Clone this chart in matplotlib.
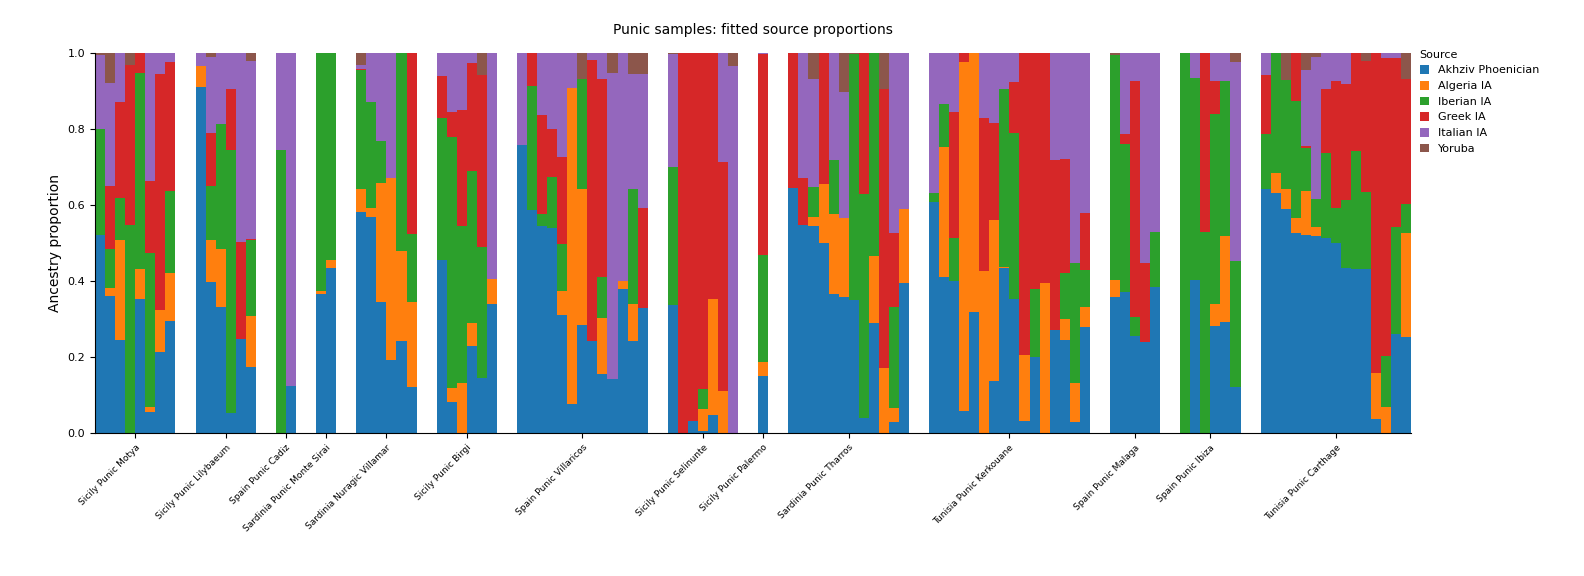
import numpy as np
import matplotlib
matplotlib.use("Agg")
import matplotlib.pyplot as plt

sources = ["Akhziv Phoenician", "Algeria IA", "Iberian IA", "Greek IA", "Italian IA", "Yoruba"]
colors = ["#1f77b4", "#ff7f0e", "#2ca02c", "#d62728", "#9467bd", "#8c564b"]

# cumulative tops per sample: (Akhziv, +Algeria, +Iberian, +Greek, +Italian); Yoruba fills to 1
motya = [(0.52,0.52,0.80,0.80,0.995),(0.36,0.383,0.484,0.65,0.92),(0.245,0.508,0.618,0.872,1.0),
         (0,0,0.547,0.969,0.969),(0.354,0.432,0.948,1.0,1.0),(0.055,0.07,0.474,0.664,1.0),
         (0.214,0.323,0.323,0.945,1.0),(0.294,0.422,0.638,0.977,1.0)]
lilybaeum = [(0.911,0.966,0.966,0.966,1.0),(0.398,0.508,0.651,0.789,0.99),(0.333,0.484,0.8125,0.8125,1.0),
             (0.052,0.052,0.745,0.906,1.0),(0.247,0.247,0.247,0.503,1.0),(0.174,0.307,0.508,0.51,0.979)]
cadiz = [(0,0,0.745,0.745,1.0),(0.125,0.125,0.125,0.125,1.0)]
monte_sirai = [(0.365,0.375,1.0,1.0,1.0),(0.435,0.456,1.0,1.0,1.0)]
villamar = [(0.581,0.643,0.956,0.958,0.969),(0.568,0.591,0.87,0.87,1.0),(0.346,0.659,0.768,0.768,1.0),
            (0.193,0.672,0.672,0.672,1.0),(0.242,0.479,1.0,1.0,1.0),(0.122,0.344,0.523,1.0,1.0)]
birgi = [(0.456,0.456,0.828,0.94,1.0),(0.081,0.12,0.779,0.844,1.0),(0,0.133,0.544,0.849,1.0),
         (0.229,0.289,0.69,0.974,1.0),(0.146,0.146,0.49,0.943,0.943),(0.339,0.406,0.406,0.406,1.0)]
villaricos = [(0.758,0.758,0.758,0.758,1.0),(0.586,0.586,0.914,1.0,1.0),(0.544,0.544,0.576,0.836,1.0),
              (0.539,0.539,0.674,0.8,1.0),(0.31,0.375,0.497,0.727,1.0),(0.076,0.909,0.909,0.909,1.0),
              (0.284,0.641,0.932,0.932,0.932),(0.242,0.242,0.242,0.982,1.0),(0.156,0.302,0.411,0.932,1.0),
              (0.143,0.143,0.143,0.143,0.948),(0.378,0.401,0.401,0.401,1.0),(0.242,0.339,0.643,0.643,0.945),
              (0.328,0.328,0.328,0.591,0.945)]
selinunte = [(0.336,0.336,0.70,0.70,0.997),(0,0,0,1.0,1.0),(0.031,0.031,0.031,1.0,1.0),
             (0.005,0.0625,0.117,1.0,1.0),(0.049,0.352,0.352,1.0,1.0),(0,0.112,0.112,0.714,1.0),
             (0,0,0,0,0.966)]
palermo = [(0.151,0.1875,0.469,0.997,1.0)]
tharros = [(0.646,0.646,0.646,1.0,1.0),(0.547,0.547,0.547,0.672,1.0),(0.544,0.568,0.648,0.648,0.932),
           (0.5,0.656,0.656,1.0,1.0),(0.367,0.576,0.719,0.719,1.0),(0.357,0.565,0.565,0.565,0.898),
           (0.349,0.349,0.997,0.997,0.997),(0.039,0.039,0.628,1.0,1.0),(0.289,0.466,1.0,1.0,1.0),
           (0,0.172,0.172,0.904,0.904),(0.029,0.065,0.333,0.526,1.0),(0.396,0.589,0.589,0.589,1.0)]
kerkouane = [(0.607,0.607,0.633,0.633,1.0),(0.411,0.753,0.867,0.867,1.0),(0.401,0.401,0.513,0.844,1.0),
             (0.057,0.977,0.977,1.0,1.0),(0.32,1.0,1.0,1.0,1.0),(0,0.427,0.427,0.828,1.0),
             (0.138,0.56,0.56,0.815,1.0),(0.435,0.4375,0.904,0.904,1.0),(0.352,0.352,0.789,0.924,1.0),
             (0.031,0.206,0.206,1.0,1.0),(0.2,0.2,0.38,1.0,1.0),(0,0.396,0.396,1.0,1.0),
             (0.271,0.271,0.271,0.719,1.0),(0.245,0.3,0.422,0.721,1.0),(0.029,0.133,0.448,0.448,1.0),
             (0.279,0.331,0.43,0.578,1.0)]
malaga = [(0.359,0.404,0.995,0.995,0.995),(0.37,0.37,0.76,0.786,1.0),(0.255,0.255,0.305,0.927,1.0),
          (0.24,0.24,0.24,0.448,1.0),(0.385,0.385,0.529,0.529,1.0)]
ibiza = [(0,0,1.0,1.0,1.0),(0.404,0.404,0.935,0.935,1.0),(0,0,0.529,1.0,1.0),
         (0.281,0.341,0.839,0.927,1.0),(0.292,0.518,0.927,0.927,1.0),(0.122,0.122,0.453,0.453,0.977)]
carthage = [(0.643,0.643,0.786,0.943,1.0),(0.633,0.685,1.0,1.0,1.0),(0.589,0.641,0.93,0.93,0.93),
            (0.526,0.565,0.875,1.0,1.0),(0.521,0.638,0.75,0.755,0.956),(0.518,0.542,0.617,0.617,0.99),
            (0.513,0.513,0.737,0.904,1.0),(0.5,0.5,0.591,0.927,1.0),(0.435,0.435,0.612,0.919,1.0),
            (0.432,0.432,0.742,1.0,1.0),(0.432,0.432,0.635,0.979,0.979),(0.036,0.159,0.159,1.0,1.0),
            (0,0.07,0.203,0.987,1.0),(0.26,0.26,0.542,0.987,1.0),(0.253,0.526,0.604,0.932,0.932)]

group_names = ["Sicily Punic Motya", "Sicily Punic Lilybaeum", "Spain Punic Cadiz",
               "Sardinia Punic Monte Sirai", "Sardinia Nuragic Villamar", "Sicily Punic Birgi",
               "Spain Punic Villaricos", "Sicily Punic Selinunte", "Sicily Punic Palermo",
               "Sardinia Punic Tharros", "Tunisia Punic Kerkouane", "Spain Punic Malaga",
               "Spain Punic Ibiza", "Tunisia Punic Carthage"]
groups = [motya, lilybaeum, cadiz, monte_sirai, villamar, birgi, villaricos, selinunte,
          palermo, tharros, kerkouane, malaga, ibiza, carthage]

fig = plt.figure(figsize=(15.84, 5.76), dpi=100)
ax = fig.add_axes([0.06, 0.248, 0.831, 0.66])

gap = 2
pos = 0
xs, cums, centers = [], [], []
for g in groups:
    start = pos
    for c in g:
        xs.append(pos)
        cums.append(list(c) + [1.0])
        pos += 1
    centers.append((start + pos - 1) / 2)
    pos += gap
xs = np.array(xs, dtype=float)
cums = np.array(cums)
vals = np.diff(np.hstack([np.zeros((len(cums), 1)), cums]), axis=1)
vals = np.clip(vals, 0, None)

bottom = np.zeros(len(xs))
for k in range(6):
    ax.bar(xs, vals[:, k], bottom=bottom, width=1.0, color=colors[k], label=sources[k], linewidth=0)
    bottom += vals[:, k]

ax.set_xlim(xs[0] - 0.5, xs[-1] + 0.5)
ax.set_ylim(0, 1)
ax.set_xticks(centers)
ax.set_xticklabels(group_names, rotation=45, ha="right", rotation_mode="anchor", fontsize=6.5)
ax.tick_params(axis="y", labelsize=8)
ax.set_yticks([0, 0.2, 0.4, 0.6, 0.8, 1.0])
ax.set_ylabel("Ancestry proportion", fontsize=10)
ax.set_title("Punic samples: fitted source proportions", fontsize=10, pad=14)
for s in ["top", "right"]:
    ax.spines[s].set_visible(False)
ax.legend(title="Source", loc="upper left", bbox_to_anchor=(1.003, 1.02), frameon=False,
          fontsize=8, title_fontsize=8, handlelength=0.8, handleheight=0.8, borderaxespad=0,
          alignment="left")
fig.savefig("out.png", dpi=100)
